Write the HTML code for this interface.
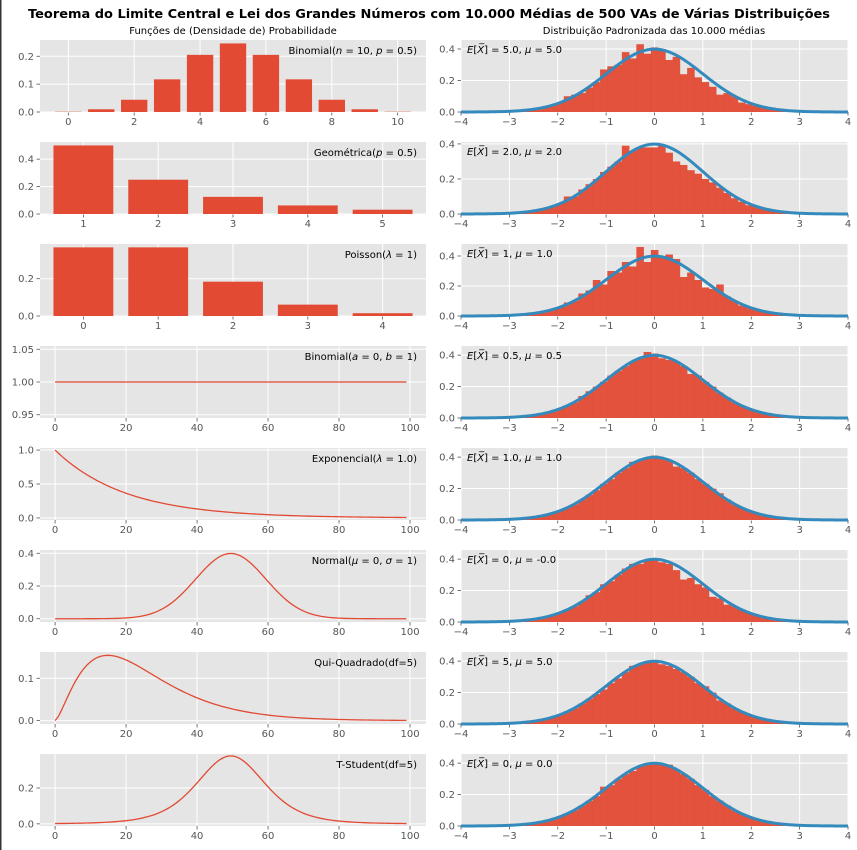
<!DOCTYPE html>
<html><head><meta charset="utf-8"><style>
body{margin:0;background:#fff;}
svg{display:block;font-family:"DejaVu Sans","Liberation Sans",sans-serif;}
</style></head><body>
<svg id="fig" width="857" height="850" viewBox="0 0 857 850" xmlns="http://www.w3.org/2000/svg">
<rect x="0" y="0" width="857" height="850" fill="#fff"/>
<rect x="0" y="0" width="1.5" height="850" fill="#333"/>
<text x="429" y="18" text-anchor="middle" font-size="12.5" font-weight="bold" textLength="802" lengthAdjust="spacingAndGlyphs">Teorema do Limite Central e Lei dos Grandes Números com 10.000 Médias de 500 VAs de Várias Distribuições</text>
<text x="233" y="34" text-anchor="middle" font-size="10">Funções de (Densidade de) Probabilidade</text>
<text x="654" y="34" text-anchor="middle" font-size="10">Distribuição Padronizada das 10.000 médias</text>
<g id="plots"></g>
</svg>
<script>
// ---- data ----
const binomX=[0,1,2,3,4,5,6,7,8,9,10];
const binomP=[0.001,0.0098,0.0439,0.1172,0.2051,0.2461,0.2051,0.1172,0.0439,0.0098,0.001];
const geomX=[1,2,3,4,5];
const geomP=[0.5,0.25,0.125,0.0625,0.03125];
const poisX=[0,1,2,3,4];
const poisP=[0.368,0.368,0.184,0.061,0.015];
const expVal=["5.0","2.0","1","0.5","1.0","0","5","0"];
const muVal=["5.0","2.0","1.0","0.5","1.0","-0.0","5.0","0.0"];
const binStart=-3.075, binWidth=0.15;
const hist1=[.004,.006,.009,.012,.02,.03,.04,.06,.1,.11,.12,.155,.19,.27,.29,.3,.38,.34,.43,.37,.41,.40,.33,.35,.24,.28,.22,.19,.16,.11,.12,.1,.06,.05,.04,.03,.02,.014,.01,.006,.004];
const hist2=[.003,.006,.01,.014,.022,.03,.045,.062,.1,.1,.14,.17,.2,.24,.27,.3,.39,.36,.38,.38,.38,.39,.35,.3,.28,.25,.23,.2,.18,.15,.12,.09,.07,.05,.045,.03,.02,.015,.01,.006,.004];
const hist3=[.004,.007,.01,.014,.022,.03,.045,.06,.09,.1,.15,.17,.24,.21,.3,.29,.36,.33,.46,.36,.44,.39,.41,.38,.26,.29,.24,.19,.18,.21,.13,.1,.07,.06,.04,.03,.02,.014,.01,.006,.004];
const hist4=[.004,.007,.01,.015,.022,.032,.044,.06,.08,.1,.14,.17,.2,.23,.27,.3,.33,.36,.38,.42,.41,.38,.37,.36,.33,.28,.27,.23,.2,.16,.13,.1,.08,.06,.045,.03,.022,.015,.01,.007,.004];
const hist5=[.004,.007,.01,.015,.022,.032,.044,.06,.08,.1,.13,.16,.19,.23,.26,.3,.33,.37,.38,.39,.41,.39,.38,.34,.33,.3,.26,.23,.2,.17,.13,.1,.08,.06,.044,.032,.022,.015,.01,.007,.004];
const hist6=[.004,.007,.01,.015,.022,.032,.044,.06,.08,.1,.13,.17,.19,.24,.26,.3,.34,.37,.37,.39,.40,.38,.37,.33,.27,.28,.24,.22,.16,.15,.11,.1,.08,.06,.044,.032,.022,.015,.01,.007,.004];
const hist7=[.004,.007,.01,.015,.022,.032,.044,.06,.08,.1,.13,.16,.19,.22,.26,.29,.33,.37,.38,.40,.40,.38,.37,.35,.33,.3,.26,.24,.2,.15,.13,.1,.08,.06,.044,.032,.022,.015,.01,.007,.004];
const hist8=[.004,.007,.01,.015,.022,.032,.044,.06,.08,.1,.13,.16,.19,.25,.26,.3,.33,.35,.38,.40,.40,.39,.39,.36,.33,.3,.26,.23,.19,.16,.13,.1,.08,.06,.044,.032,.022,.015,.01,.007,.004];
const hists=[hist1,hist2,hist3,hist4,hist5,hist6,hist7,hist8];
const rightYmax=[0.457,0.411,0.48,0.458,0.458,0.458,0.458,0.458];
const rightYTicks=[0,0.2,0.4];
const rightXTicks=[-4,-3,-2,-1,0,1,2,3,4];
const lineXTicks=[0,20,40,60,80,100];

// ---- helpers ----
const NS="http://www.w3.org/2000/svg";
const root=document.getElementById('plots');
function mk(tag,attrs,parent){const e=document.createElementNS(NS,tag);for(const k in attrs)e.setAttribute(k,attrs[k]);(parent||root).appendChild(e);return e;}
const RED="#E24A33", BLUE="#348ABD";
const LX0=40,LX1=426,RX0=461,RX1=848,PH=72;
function rowTop(i){return 40+102*i;}
function fmt(v,d){return v.toFixed(d);}

function panel(x0,x1,top,xmin,xmax,ymin,ymax,xt,yt,yd,name){
  const g=mk('g',{});
  
  
  const sx=v=>x0+(v-xmin)/(xmax-xmin)*(x1-x0);
  const sy=v=>top+PH-(v-ymin)/(ymax-ymin)*PH;
  const bg=mk('rect',{x:x0,y:top,width:x1-x0,height:PH,fill:"#E5E5E5"},g);
  
  
  xt.forEach(v=>{const X=sx(v);
    mk('line',{x1:X,x2:X,y1:top,y2:top+PH,stroke:"#fff","stroke-width":1},g);
    mk('line',{x1:X,x2:X,y1:top+PH,y2:top+PH+3.5,stroke:"#555","stroke-width":0.8},g);
    const t=mk('text',{x:X,y:top+PH+13,"text-anchor":"middle","font-size":10,fill:"#555"},g);
    t.textContent=(v<0?"\u2212"+Math.abs(v):v);
    
    
  });
  yt.forEach(v=>{const Y=sy(v);
    mk('line',{x1:x0,x2:x1,y1:Y,y2:Y,stroke:"#fff","stroke-width":1},g);
    mk('line',{x1:x0-3.5,x2:x0,y1:Y,y2:Y,stroke:"#555","stroke-width":0.8},g);
    const t=mk('text',{x:x0-6,y:Y+3.5,"text-anchor":"end","font-size":10,fill:"#555"},g);
    t.textContent=fmt(v,yd);
    
    
  });
  return {g,sx,sy};
}
function label(g,x,y,anchor,html,name){
  const t=mk('text',{x:x,y:y,"text-anchor":anchor,"font-size":10,fill:"#000"},g);
  t.innerHTML=html;
  
  
}
function bars(p,xs,ys,w){
  xs.forEach((x,i)=>{const y0=p.sy(0),y1=p.sy(ys[i]);
    const r=mk('rect',{x:p.sx(x-w/2),y:y1,width:p.sx(x+w/2)-p.sx(x-w/2),height:y0-y1,fill:RED},p.g);
    
    
  });
}
function line(p,xs,ys,color,w,name){
  const d=xs.map((x,i)=>(i?'L':'M')+p.sx(x).toFixed(2)+','+p.sy(ys[i]).toFixed(2)).join('');
  const e=mk('path',{d:d,fill:'none',stroke:color,'stroke-width':w,'stroke-linejoin':'round'},p.g);
  
  
}
function lin(a,b,n){const r=[];for(let i=0;i<n;i++)r.push(a+(b-a)*i/(n-1));return r;}
const idx=lin(0,99,100);

// ---- left column ----
let p=panel(LX0,LX1,rowTop(0),-0.86,10.86,0,0.2584,[0,2,4,6,8,10],[0,0.1,0.2],1,'binomial-pmf-panel');
bars(p,binomX,binomP,0.8);
label(p.g,LX1-9,rowTop(0)+14,'end','Binomial(<tspan font-style="italic">n</tspan> = 10, <tspan font-style="italic">p</tspan> = 0.5)','left-label');
p=panel(LX0,LX1,rowTop(1),0.42,5.58,0,0.525,geomX,[0,0.2,0.4],1,'geometric-pmf-panel');
bars(p,geomX,geomP,0.8);
label(p.g,LX1-9,rowTop(1)+14,'end','Geométrica(<tspan font-style="italic">p</tspan> = 0.5)','left-label');
p=panel(LX0,LX1,rowTop(2),-0.58,4.58,0,0.386,poisX,[0,0.2],1,'poisson-pmf-panel');
bars(p,poisX,poisP,0.8);
label(p.g,LX1-9,rowTop(2)+14,'end','Poisson(<tspan font-style="italic">λ</tspan> = 1)','left-label');
p=panel(LX0,LX1,rowTop(3),-4.25,104.5,0.945,1.055,lineXTicks,[0.95,1.0,1.05],2,'uniform-pdf-panel');
line(p,idx,idx.map(()=>1),RED,1.3,'uniform-line');
label(p.g,LX1-9,rowTop(3)+14,'end','Binomial(<tspan font-style="italic">a</tspan> = 0, <tspan font-style="italic">b</tspan> = 1)','left-label');
p=panel(LX0,LX1,rowTop(4),-4.25,104.5,-0.03,1.03,lineXTicks,[0,0.5,1.0],1,'exponential-pdf-panel');
line(p,idx,lin(0,5,100).map(x=>Math.exp(-x)),RED,1.3,'exponential-line');
label(p.g,LX1-9,rowTop(4)+14,'end','Exponencial(<tspan font-style="italic">λ</tspan> = 1.0)','left-label');
p=panel(LX0,LX1,rowTop(5),-4.25,104.5,-0.02,0.42,lineXTicks,[0,0.2,0.4],1,'normal-pdf-panel');
line(p,idx,lin(-5,5,100).map(x=>Math.exp(-x*x/2)/Math.sqrt(2*Math.PI)),RED,1.3,'normal-line');
label(p.g,LX1-9,rowTop(5)+14,'end','Normal(<tspan font-style="italic">μ</tspan> = 0, <tspan font-style="italic">σ</tspan> = 1)','left-label');
p=panel(LX0,LX1,rowTop(6),-4.25,104.5,-0.008,0.162,lineXTicks,[0,0.1],1,'chi-square-pdf-panel');
line(p,idx,lin(0,20,100).map(x=>Math.pow(x,1.5)*Math.exp(-x/2)/7.5199),RED,1.3,'chi-square-line');
label(p.g,LX1-9,rowTop(6)+14,'end','Qui-Quadrado(df=5)','left-label');
p=panel(LX0,LX1,rowTop(7),-4.25,104.5,-0.012,0.39,lineXTicks,[0,0.2],1,'t-student-pdf-panel');
line(p,idx,lin(-5,5,100).map(x=>0.3796*Math.pow(1+x*x/5,-3)),RED,1.3,'t-student-line');
label(p.g,LX1-9,rowTop(7)+14,'end','T-Student(df=5)','left-label');

// ---- right column ----
const cx=lin(-4,4,200);
for(let r=0;r<8;r++){
  const q=panel(RX0,RX1,rowTop(r),-4,4,0,rightYmax[r],rightXTicks,rightYTicks,1,'standardized-means-panel-'+(r+1));
  hists[r].forEach((v,i)=>{const a=binStart+i*binWidth;
    const y0=q.sy(0),y1=q.sy(v);
    const b=mk('rect',{x:q.sx(a),y:y1,width:q.sx(a+binWidth)-q.sx(a)+0.3,height:y0-y1,fill:RED,'fill-opacity':0.95},q.g);
    
    
  });
  line(q,cx,cx.map(x=>Math.exp(-x*x/2)/Math.sqrt(2*Math.PI)),BLUE,3,'normal-curve');
  label(q.g,RX0+6,rowTop(r)+13,'start','<tspan font-style="italic">E</tspan>[<tspan font-style="italic">X&#773;</tspan>] = '+expVal[r]+', <tspan font-style="italic">μ</tspan> = '+muVal[r],'right-label');
}
</script>
</body></html>
